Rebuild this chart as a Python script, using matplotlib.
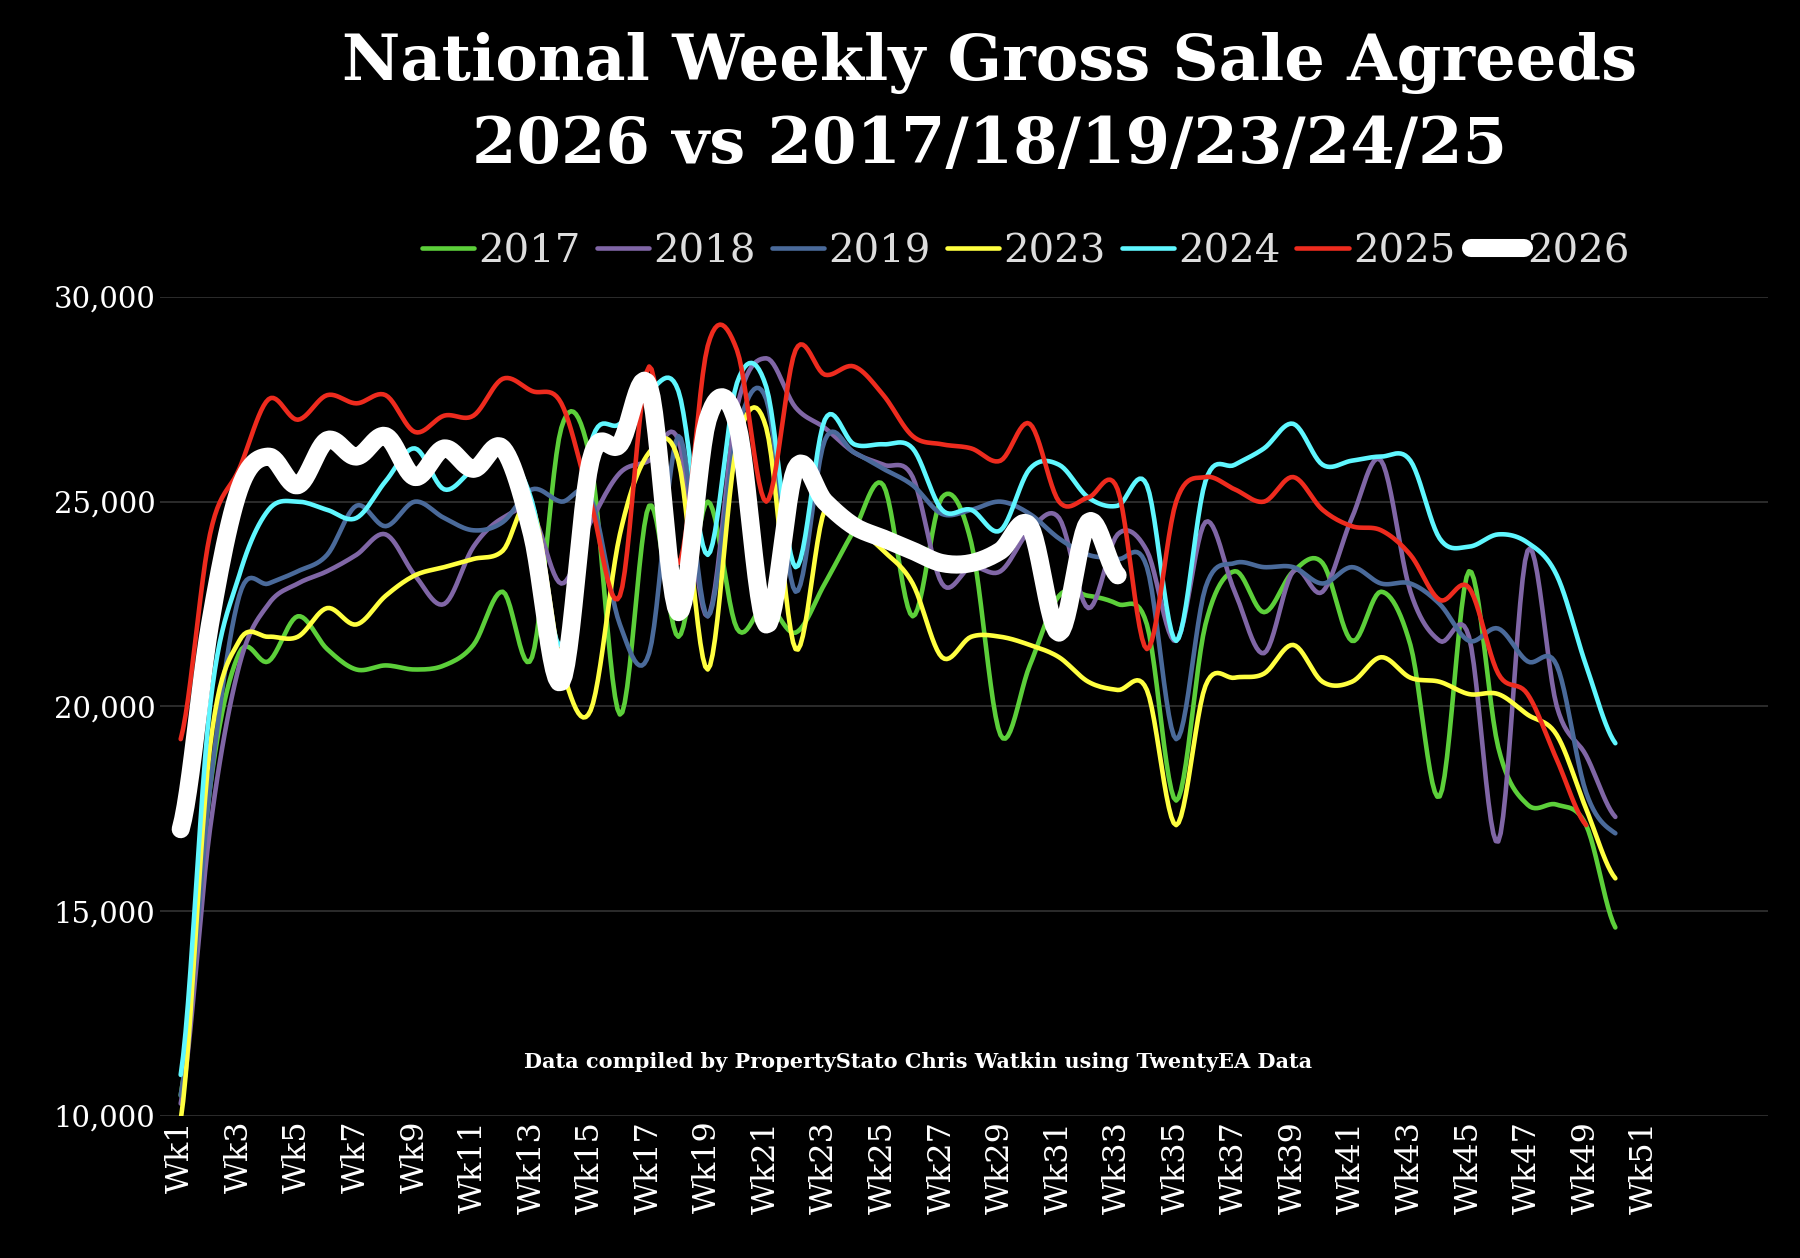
import numpy as np
import matplotlib
matplotlib.use('Agg')
import matplotlib.pyplot as plt

weeks = ['Wk%d' % i for i in range(1, 53)]

# weekly gross sale agreed
y2017 = [10500, 18000, 21300, 21100, 22200, 21400, 20900, 21000, 20900, 21000,
         21500, 22800, 21200, 26800, 26000, 19800, 24900, 21700, 25000, 21900,
         22500, 21800, 23000, 24300, 25400, 22200, 25100, 24000, 19300, 21000,
         22700, 22700, 22500, 22000, 17700, 22000, 23300, 22300, 23300, 23500,
         21600, 22800, 21500, 17800, 23300, 19000, 17600, 17600, 17100, 14600]
y2018 = [10300, 17000, 21000, 22500, 23000, 23300, 23700, 24200, 23200, 22500,
         23900, 24600, 24700, 23000, 24500, 25700, 26000, 26500, 22200, 27300,
         28500, 27300, 26800, 26200, 25900, 25600, 23000, 23400, 23300, 24300,
         24600, 22400, 24200, 23800, 21600, 24500, 22800, 21300, 23300, 22800,
         24600, 26000, 22800, 21600, 21700, 16700, 23800, 20000, 18800, 17300]
y2019 = [10500, 18000, 22700, 23000, 23300, 23700, 24900, 24400, 25000, 24600,
         24300, 24500, 25300, 25000, 25100, 22000, 21300, 26600, 22200, 26700,
         27500, 22800, 26500, 26200, 25800, 25400, 24700, 24800, 25000, 24700,
         24100, 23700, 23600, 23400, 19200, 22900, 23500, 23400, 23400, 23000,
         23400, 23000, 23000, 22500, 21600, 21900, 21100, 21000, 17900, 16900]
y2023 = [9900, 19000, 21600, 21700, 21700, 22400, 22000, 22700, 23200, 23400,
         23600, 23800, 24900, 21000, 19900, 24200, 26200, 26000, 20900, 26400,
         26800, 21400, 24800, 24400, 23800, 23000, 21200, 21700, 21700, 21500,
         21200, 20600, 20400, 20400, 17100, 20500, 20700, 20800, 21500, 20600,
         20600, 21200, 20700, 20600, 20300, 20300, 19800, 19300, 17500, 15800]
y2024 = [11000, 20000, 23200, 24800, 25000, 24800, 24600, 25500, 26300, 25300,
         25800, 26200, 25000, 21500, 26400, 26900, 27700, 27700, 23700, 27900,
         27800, 23400, 27000, 26400, 26400, 26300, 24800, 24800, 24300, 25800,
         25900, 25100, 24900, 25400, 21600, 25500, 25900, 26300, 26900, 25900,
         26000, 26100, 26000, 24100, 23900, 24200, 24000, 23200, 21000, 19100]
y2025 = [19200, 24200, 25800, 27500, 27000, 27600, 27400, 27600, 26700, 27100,
         27100, 28000, 27700, 27400, 25000, 22700, 28300, 23500, 28800, 28700,
         25000, 28700, 28100, 28300, 27600, 26600, 26400, 26300, 26000, 26900,
         25000, 25100, 25300, 21400, 25000, 25600, 25300, 25000, 25600, 24800,
         24400, 24300, 23700, 22600, 22900, 20800, 20300, 18700, 17100]
y2026 = [17000, 22000, 25300, 26100, 25400, 26500, 26100, 26600, 25600, 26300,
         25800, 26300, 24200, 20600, 26000, 26400, 27800, 22300, 27000, 26900,
         22000, 25800, 25000, 24400, 24100, 23800, 23500, 23500, 23800, 24400,
         21800, 24500, 23200]

series = [('2017', y2017, '#5ccf3a', 3.3),
          ('2018', y2018, '#8066a6', 3.3),
          ('2019', y2019, '#4a6a9a', 3.3),
          ('2023', y2023, '#ffff40', 3.3),
          ('2024', y2024, '#5ff7ff', 3.3),
          ('2025', y2025, '#ee2b1e', 3.3),
          ('2026', y2026, '#ffffff', 13)]


# smooth line like excel (catmull-rom)
def smooth(y, n=12):
    y = np.asarray(y, dtype=float)
    x = np.arange(1, len(y) + 1, dtype=float)
    p = np.concatenate([[y[0]], y, [y[-1]]])
    xs, ys = [], []
    for i in range(len(y) - 1):
        p0, p1, p2, p3 = p[i], p[i + 1], p[i + 2], p[i + 3]
        t = np.linspace(0, 1, n, endpoint=False)
        ys.append(0.5 * (2 * p1 + (-p0 + p2) * t + (2 * p0 - 5 * p1 + 4 * p2 - p3) * t ** 2
                         + (-p0 + 3 * p1 - 3 * p2 + p3) * t ** 3))
        xs.append(x[i] + t)
    xs.append([x[-1]])
    ys.append([y[-1]])
    return np.concatenate(xs), np.concatenate(ys)


fig = plt.figure(figsize=(18, 12.58), dpi=100, facecolor='black')
ax = fig.add_axes([0.089, 0.113, 0.893, 0.651], facecolor='black')

for name, vals, col, lw in series:
    xs, ys = smooth(vals)
    ax.plot(xs, ys, color=col, lw=lw, label=name, solid_capstyle='round')

ax.set_xlim(0.3, 55.2)
ax.set_ylim(10000, 30000)
ax.set_yticks([10000, 15000, 20000, 25000, 30000])
ax.set_yticklabels(['{:,}'.format(v) for v in [10000, 15000, 20000, 25000, 30000]],
                   color='white', fontsize=21, family='DejaVu Serif')
ax.set_xticks(range(1, 52, 2))
ax.set_xticklabels(weeks[0:51:2], rotation=90, color='white', fontsize=23,
                   family='DejaVu Serif')
ax.tick_params(length=0)
ax.grid(axis='y', color='#333333', lw=1.2)
ax.set_axisbelow(True)
for s in ax.spines.values():
    s.set_visible(False)

fig.text(0.55, 0.95, 'National Weekly Gross Sale Agreeds', ha='center', va='center',
         color='white', fontsize=46, fontweight='bold', family='DejaVu Serif')
fig.text(0.55, 0.884, '2026 vs 2017/18/19/23/24/25', ha='center', va='center',
         color='white', fontsize=46, fontweight='bold', family='DejaVu Serif')
fig.text(0.51, 0.156, 'Data compiled by PropertyStato Chris Watkin using TwentyEA Data',
         ha='center', va='center', color='white', fontsize=15, fontweight='bold',
         family='DejaVu Serif')

leg = fig.legend(loc='center', bbox_to_anchor=(0.57, 0.80), ncol=7, frameon=False,
                 handlelength=1.3, handletextpad=0.1, columnspacing=0.4,
                 prop={'family': 'DejaVu Serif', 'size': 29})
for t in leg.get_texts():
    t.set_color('#dddddd')

fig.savefig('out.png', facecolor='black')
